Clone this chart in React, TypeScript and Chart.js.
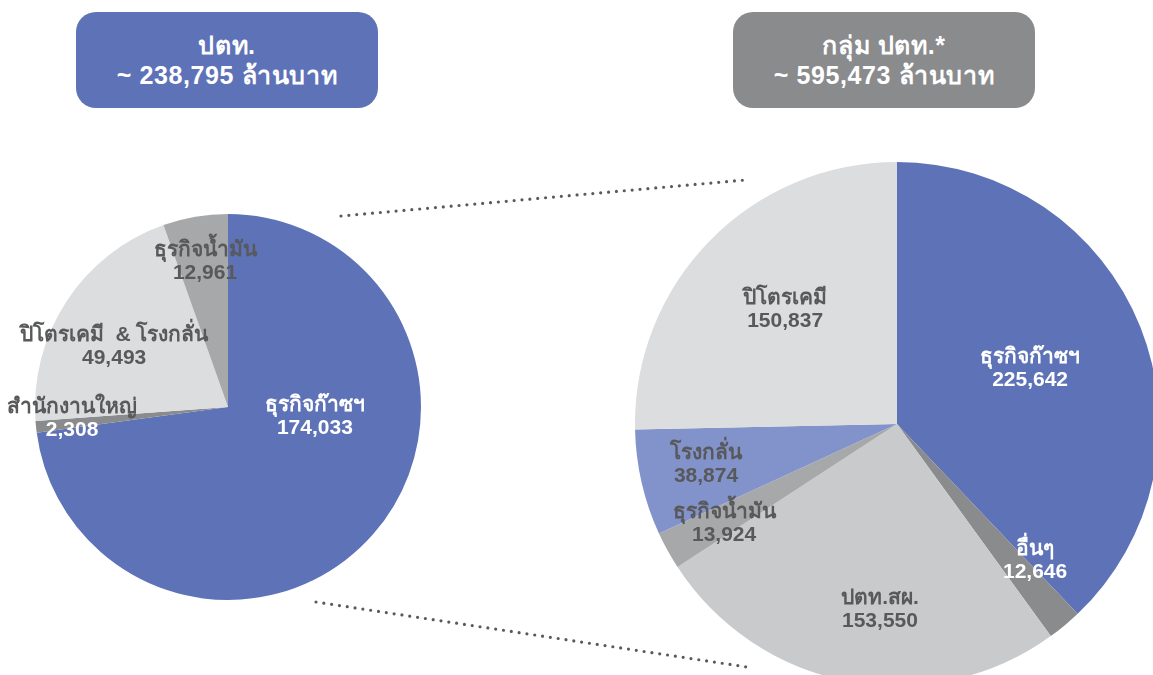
import React, { useEffect, useRef } from "react";
import { Chart, registerables } from "chart.js";

Chart.register(...registerables);

// ---- Data ----
const leftTitle = ["ปตท.", "~ 238,795 ล้านบาท"];
const rightTitle = ["กลุ่ม ปตท.*", "~ 595,473 ล้านบาท"];

const leftLabels = ["ธุรกิจก๊าซฯ", "สำนักงานใหญ่", "ปิโตรเคมี  & โรงกลั่น", "ธุรกิจน้ำมัน"];
const leftValues = [174033, 2308, 49493, 12961];

const rightLabels = ["ธุรกิจก๊าซฯ", "อื่นๆ", "ปตท.สผ.", "ธุรกิจน้ำมัน", "โรงกลั่น", "ปิโตรเคมี"];
const rightValues = [225642, 12646, 153550, 13924, 38874, 150837];

// ---- Styles ----
const BLUE = "#5e72b8";
const leftColors = [BLUE, "#8a8b8d", "#dcdddf", "#a7a8aa"];
const rightColors = [BLUE, "#8a8b8d", "#c9cacc", "#a7a8aa", "#8292ca", "#dcdddf"];
const DARK = "#58595b";
const leftTextColors = ["#ffffff", [DARK, "#ffffff"], DARK, DARK];
const rightTextColors = ["#ffffff", "#ffffff", DARK, DARK, DARK, DARK];
// label anchor offsets, in units of the pie radius, from the pie centre
const leftLabelPos = [
  [0.45, 0.047],
  [-0.808, 0.057],
  [-0.59, -0.316],
  [-0.119, -0.756],
];
const rightLabelPos = [
  [0.508, -0.214],
  [0.527, 0.519],
  [-0.065, 0.706],
  [-0.66, 0.378],
  [-0.729, 0.153],
  [-0.427, -0.439],
];

const FONT = "'Liberation Sans', Arial, 'Noto Sans', sans-serif";

function fmt(n: number) {
  return n.toLocaleString("en-US");
}

function makeLabelPlugin(pos: number[][], colors: any[]) {
  return {
    id: "sliceLabels",
    afterDatasetsDraw(chart: any) {
      const meta = chart.getDatasetMeta(0);
      const labels = chart.data.labels as string[];
      const values = chart.data.datasets[0].data as number[];
      const ctx = chart.ctx;
      ctx.save();
      ctx.textAlign = "center";
      ctx.textBaseline = "middle";
      meta.data.forEach((arc: any, i: number) => {
        const r = arc.outerRadius;
        const x = arc.x + pos[i][0] * r;
        const y = arc.y + pos[i][1] * r;
        const c = colors[i];
        const c1 = Array.isArray(c) ? c[0] : c;
        const c2 = Array.isArray(c) ? c[1] : c;
        ctx.font = `bold 21px ${FONT}`;
        ctx.fillStyle = c1;
        ctx.fillText(labels[i], x, y - 11);
        ctx.fillStyle = c2;
        ctx.fillText(fmt(values[i]), x, y + 12);
      });
      ctx.restore();
    },
  };
}

function PieChart(props: {
  labels: string[];
  values: number[];
  colors: string[];
  pos: number[][];
  textColors: any[];
  pad: number;
  style: React.CSSProperties;
}) {
  const ref = useRef<HTMLCanvasElement | null>(null);
  useEffect(() => {
    if (!ref.current) return;
    const chart = new Chart(ref.current, {
      type: "pie",
      data: {
        labels: props.labels,
        datasets: [
          {
            data: props.values,
            backgroundColor: props.colors,
            borderWidth: 0,
          },
        ],
      },
      options: {
        animation: false,
        responsive: true,
        maintainAspectRatio: false,
        layout: { padding: props.pad },
        plugins: {
          legend: { display: false },
          tooltip: { enabled: false },
        },
      },
      plugins: [makeLabelPlugin(props.pos, props.textColors)],
    });
    return () => chart.destroy();
  }, []);
  return (
    <div style={{ position: "absolute", ...props.style }}>
      <canvas ref={ref} />
    </div>
  );
}

function TitleBox(props: { lines: string[]; color: string; left: number }) {
  return (
    <div
      style={{
        position: "absolute",
        left: props.left,
        top: 12,
        width: 302,
        height: 96,
        borderRadius: 20,
        background: props.color,
        color: "#fff",
        fontFamily: FONT,
        fontWeight: "bold",
        fontSize: 25,
        letterSpacing: "0.6px",
        lineHeight: "30px",
        display: "flex",
        flexDirection: "column",
        justifyContent: "center",
        alignItems: "center",
        textAlign: "center",
      }}
    >
      {props.lines.map((l, i) => (
        <div key={i}>{l}</div>
      ))}
    </div>
  );
}

export default function App() {
  return (
    <div
      style={{
        position: "absolute",
        left: 0,
        top: 0,
        width: 1153,
        height: 675,
        overflow: "hidden",
        background: "#fff",
      }}
    >
      <svg
        width={1153}
        height={675}
        style={{ position: "absolute", left: 0, top: 0 }}
      >
        <line x1={341} y1={216} x2={745} y2={180} stroke="#5a5a5a" strokeWidth={3.2} strokeLinecap="round" strokeDasharray="0 7.9" />
        <line x1={316} y1={602} x2={747} y2={667} stroke="#5a5a5a" strokeWidth={3.2} strokeLinecap="round" strokeDasharray="0 7.9" />
      </svg>
      <PieChart
        labels={leftLabels}
        values={leftValues}
        colors={leftColors}
        pos={leftLabelPos}
        textColors={leftTextColors}
        pad={35}
        style={{ left: 0, top: 179, width: 456, height: 456 }}
      />
      <PieChart
        labels={rightLabels}
        values={rightValues}
        colors={rightColors}
        pos={rightLabelPos}
        textColors={rightTextColors}
        pad={0}
        style={{ left: 635, top: 162, width: 524, height: 524 }}
      />
      <TitleBox lines={leftTitle} color={BLUE} left={76} />
      <TitleBox lines={rightTitle} color="#8a8b8d" left={733} />
    </div>
  );
}
